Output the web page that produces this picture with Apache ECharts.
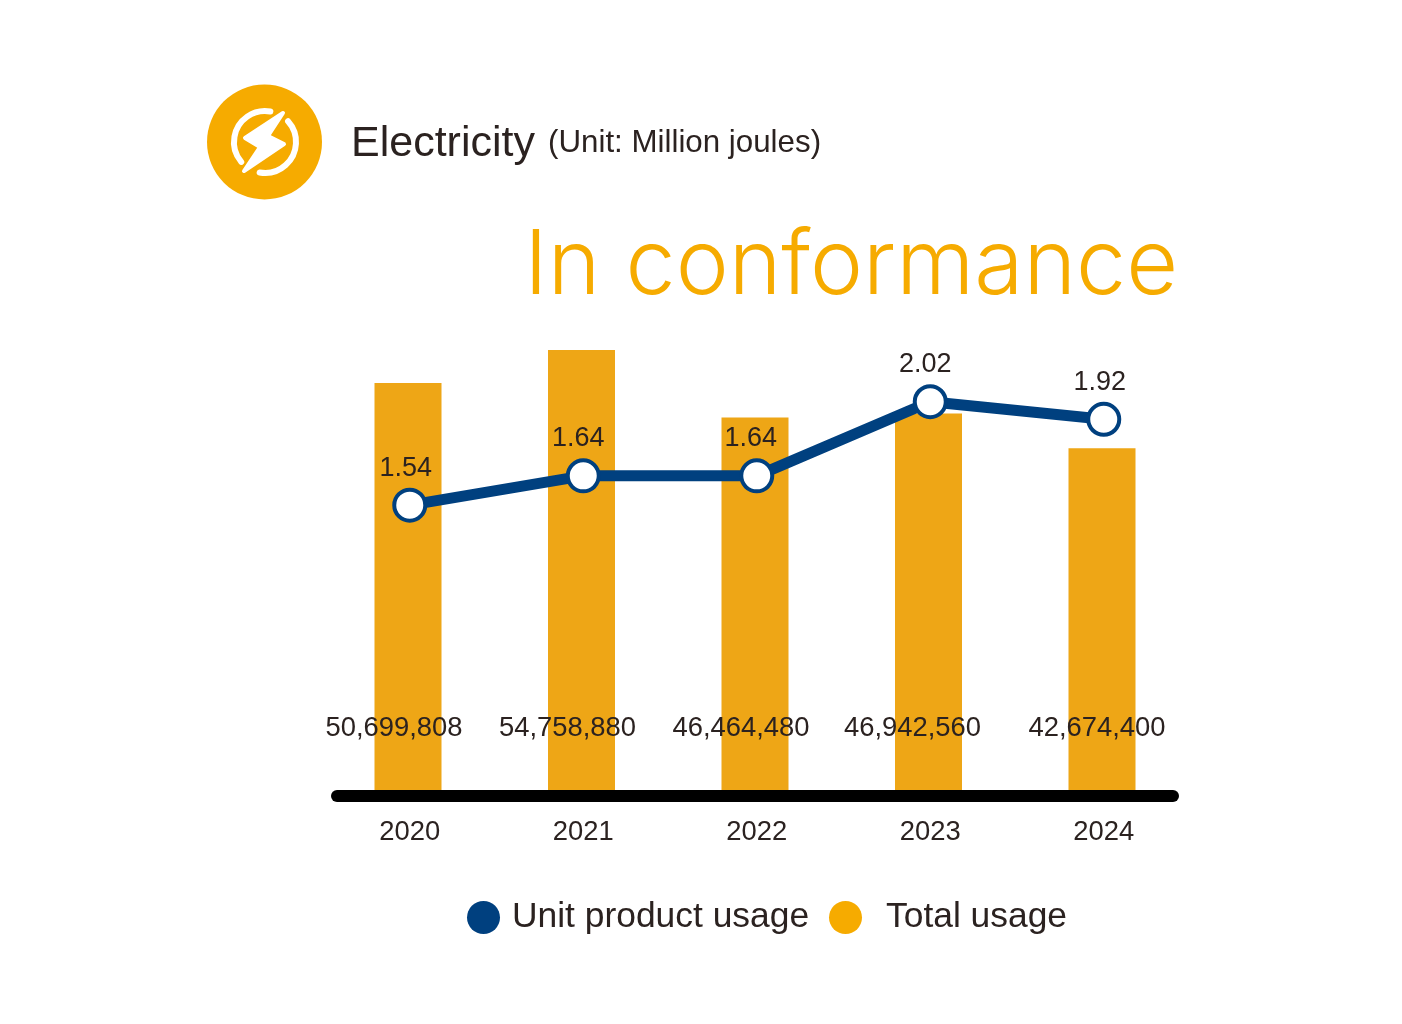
<!DOCTYPE html>
<html>
<head>
<meta charset="utf-8">
<title>Electricity</title>
<style>
  html, body { margin: 0; padding: 0; background: #fff; }
  #chart { width: 1402px; height: 1024px; }
</style>
<script src="https://cdn.jsdelivr.net/npm/echarts@6/dist/echarts.min.js"></script>
</head>
<body>
<div id="chart"></div>
<script>
const years = ['2020', '2021', '2022', '2023', '2024']
const totalUsage = [50699808, 54758880, 46464480, 46942560, 42674400]
// printed labels, and the heights the points really sit at in the picture (2020 sits lower than its label says)
const unitLabels = ['1.54', '1.64', '1.64', '2.02', '1.92']
const unitHeights = [1.49, 1.64, 1.64, 2.02, 1.93]

const navy = '#00407F'
const orange = '#EEA616'
const amber = '#F6AB00'
const ink = '#2b2220'
const font = 'Liberation Sans'

const totalLabelShift = [-14, -14, -14, -16, -5]
const unitLabelShift = [-4, -5, -6, -5, -4]

const chart = echarts.init(document.getElementById('chart'))
chart.setOption({
  animation: false,
  backgroundColor: '#fff',
  textStyle: { fontFamily: font, color: ink },
  grid: [
    { left: 321.25, width: 867.5, top: 308, height: 488 },
    { left: 323, width: 867.5, top: 308, height: 488 }
  ],
  xAxis: [
    { type: 'category', gridIndex: 0, data: years, axisLine: { show: false }, axisTick: { show: false }, axisLabel: { show: false } },
    {
      type: 'category', gridIndex: 1, data: years,
      axisLine: { show: false }, axisTick: { show: false },
      axisLabel: { fontSize: 27.4, color: ink, margin: 23, fontFamily: font }
    }
  ],
  yAxis: [
    { type: 'value', gridIndex: 0, min: 0, max: 59900000, show: false },
    { type: 'value', gridIndex: 1, min: 0, max: 2.5, show: false }
  ],
  legend: [
    {
      left: 462, top: 895, itemWidth: 33, itemHeight: 33,
      data: [{ name: 'Unit product usage', icon: 'circle', itemStyle: { color: navy, borderWidth: 0 } }],
      textStyle: { fontSize: 35.4, color: ink, fontFamily: font, padding: [0, 0, 8, 7] }
    },
    {
      left: 824, top: 895, itemWidth: 33, itemHeight: 33,
      data: [{ name: 'Total usage', icon: 'circle', itemStyle: { color: amber, borderWidth: 0 } }],
      textStyle: { fontSize: 35.4, color: ink, fontFamily: font, padding: [0, 0, 8, 19] }
    }
  ],
  series: [
    {
      name: 'Total usage',
      type: 'bar',
      xAxisIndex: 0,
      yAxisIndex: 0,
      barWidth: 67,
      itemStyle: { color: orange },
      data: totalUsage.map((v, i) => ({
        value: v,
        label: { offset: [totalLabelShift[i], 0] }
      })),
      label: {
        show: true,
        position: 'insideBottom',
        distance: 54,
        fontSize: 27.4,
        color: ink,
        fontFamily: font,
        formatter: p => p.value.toLocaleString('en-US')
      }
    },
    {
      name: 'Unit product usage',
      type: 'line',
      xAxisIndex: 1,
      yAxisIndex: 1,
      z: 5,
      symbol: 'circle',
      symbolSize: 31,
      lineStyle: { color: navy, width: 11 },
      itemStyle: { color: '#fff', borderColor: navy, borderWidth: 4 },
      data: unitHeights.map((v, i) => ({
        value: v,
        label: { offset: [unitLabelShift[i], 0], formatter: unitLabels[i] }
      })),
      label: { show: true, position: 'top', distance: 6, fontSize: 27, color: ink, fontFamily: font }
    }
  ],
  graphic: [
    // axis baseline, shorter than the grid and with round ends
    { type: 'line', z: 10, shape: { x1: 337, y1: 796, x2: 1173, y2: 796 }, style: { stroke: '#000', lineWidth: 12, lineCap: 'round' } },
    // icon
    { type: 'circle', shape: { cx: 264.5, cy: 142, r: 57.5 }, style: { fill: amber } },
    { type: 'arc', shape: { cx: 265, cy: 142, r: 31, startAngle: -80 * Math.PI / 180, endAngle: 140 * Math.PI / 180, clockwise: false }, style: { fill: 'none', stroke: '#fff', lineWidth: 6, lineCap: 'round' } },
    { type: 'arc', shape: { cx: 265, cy: 142, r: 31, startAngle: -42 * Math.PI / 180, endAngle: 100 * Math.PI / 180, clockwise: true }, style: { fill: 'none', stroke: '#fff', lineWidth: 6, lineCap: 'round' } },
    { type: 'polygon', shape: { points: [[283, 113], [245, 138], [260, 147], [244, 171], [284, 144], [268, 136]] }, style: { fill: '#fff', stroke: '#fff', lineWidth: 4, lineJoin: 'round' } },
    // headings
    { type: 'text', x: 351, y: 144, style: { text: 'Electricity', font: '43px "Liberation Sans"', fill: ink, textVerticalAlign: 'middle' } },
    { type: 'text', x: 548, y: 143, style: { text: '(Unit: Million joules)', font: '31.3px "Liberation Sans"', fill: ink, textVerticalAlign: 'middle' } },
    { type: 'text', x: 1178, y: 267, style: { text: 'In conformance', font: '300 89.5px Inter', fill: amber, textAlign: 'right', textVerticalAlign: 'middle' } }
  ]
})
window.onresize = () => {
  chart.resize()
}
</script>
</body>
</html>
